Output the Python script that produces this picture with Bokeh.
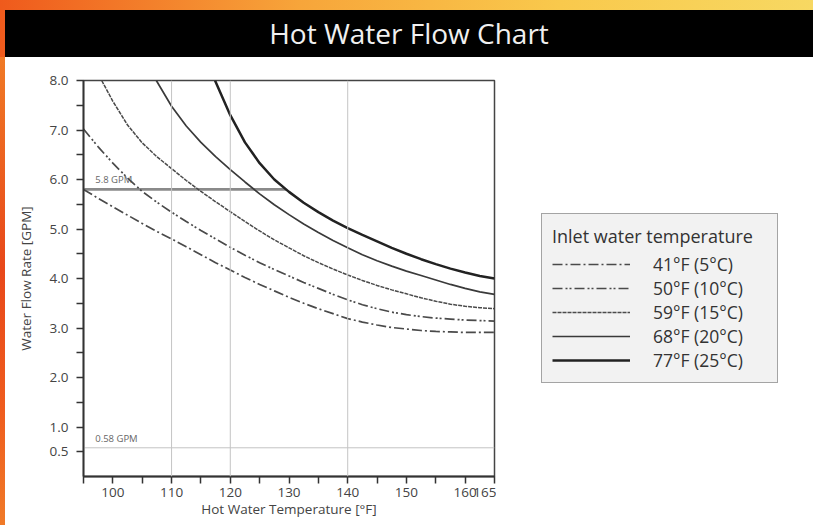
from bokeh.plotting import figure
from bokeh.models import FixedTicker, Span, Legend, LegendItem, Range1d, PrintfTickFormatter, Div
from bokeh.layouts import column, row
from bokeh.embed import file_html
from bokeh.resources import INLINE
from bokeh.core.properties import value

# ---------------- data ----------------
title_text = "Hot Water Flow Chart"
x_label = "Hot Water Temperature [°F]"
y_label = "Water Flow Rate [GPM]"
legend_title = "Inlet water temperature"

x_major_ticks = [100, 110, 120, 130, 140, 150, 160, 165]
x_minor_ticks = [95, 105, 115, 125, 135, 145, 155]
y_major_ticks = [0.5, 1, 2, 3, 4, 5, 6, 7, 8]
y_minor_ticks = [1.5, 2.5, 3.5, 4.5, 5.5, 6.5, 7.5]

series_labels = ["41°F (5°C)", "50°F (10°C)", "59°F (15°C)", "68°F (20°C)", "77°F (25°C)"]

t_41 = [95, 97.5, 100, 102.5, 105, 107.5, 110, 112.5, 115, 117.5, 120, 122.5, 125, 127.5,
        130, 132.5, 135, 137.5, 140, 142.5, 145, 147.5, 150, 152.5, 155, 157.5, 160, 162.5, 165]
q_41 = [5.80, 5.62, 5.45, 5.28, 5.11, 4.95, 4.80, 4.64, 4.48, 4.32, 4.17, 4.02, 3.88, 3.75,
        3.62, 3.50, 3.39, 3.29, 3.19, 3.12, 3.06, 3.01, 2.98, 2.95, 2.93, 2.92, 2.91, 2.91, 2.91]

t_50 = [95, 97.5, 100, 102.5, 105, 107.5, 110, 112.5, 115, 117.5, 120, 122.5, 125, 127.5,
        130, 132.5, 135, 137.5, 140, 142.5, 145, 147.5, 150, 152.5, 155, 157.5, 160, 162.5, 165]
q_50 = [7.02, 6.66, 6.33, 6.03, 5.76, 5.54, 5.34, 5.15, 4.97, 4.80, 4.63, 4.47, 4.32, 4.18,
        4.05, 3.92, 3.80, 3.68, 3.57, 3.47, 3.39, 3.32, 3.27, 3.23, 3.20, 3.18, 3.16, 3.15, 3.14]

t_59 = [98.1, 100, 102.5, 105, 107.5, 110, 112.5, 115, 117.5, 120, 122.5, 125, 127.5,
        130, 132.5, 135, 137.5, 140, 142.5, 145, 147.5, 150, 152.5, 155, 157.5, 160, 162.5, 165]
q_59 = [8.00, 7.58, 7.10, 6.74, 6.46, 6.22, 5.98, 5.76, 5.55, 5.35, 5.15, 4.96, 4.78,
        4.62, 4.46, 4.32, 4.19, 4.07, 3.96, 3.86, 3.77, 3.69, 3.61, 3.54, 3.48, 3.44, 3.41, 3.39]

t_68 = [107.4, 110, 112.5, 115, 117.5, 120, 122.5, 125, 127.5, 130, 132.5, 135, 137.5,
        140, 142.5, 145, 147.5, 150, 152.5, 155, 157.5, 160, 162.5, 165]
q_68 = [8.00, 7.48, 7.08, 6.75, 6.46, 6.20, 5.95, 5.71, 5.49, 5.29, 5.10, 4.93, 4.77,
        4.62, 4.48, 4.36, 4.25, 4.15, 4.06, 3.97, 3.88, 3.80, 3.73, 3.68]

t_77 = [117.4, 120, 122.5, 125, 127.5, 130, 132.5, 135, 137.5, 140, 142.5, 145, 147.5,
        150, 152.5, 155, 157.5, 160, 162.5, 165]
q_77 = [8.00, 7.30, 6.75, 6.33, 6.00, 5.75, 5.53, 5.34, 5.17, 5.02, 4.88, 4.75, 4.62,
        4.50, 4.39, 4.29, 4.20, 4.12, 4.05, 4.00]

ref_temps = [110, 120, 140]
mark_gpm = [5.8, 0.58]
mark_x_end = [129.5, 165]
mark_text = ["5.8 GPM", "0.58 GPM"]

FONT = "Open Sans"

# ---------------- title bar ----------------
header = Div(width=813, height=57, margin=0,
             styles={"background": "linear-gradient(to right, #ef5a1c 0px, #f7a53a 300px, #f9c94c 560px, #f7d862 813px)"},
             text=('<div style="height:10px"></div>'
                   '<div style="margin-left:5px;width:808px;background:#000;color:#f0f0f0;height:47px;'
                   'line-height:47px;text-align:center;font-family:\'Open Sans\';font-size:28px;">'
                   + title_text + '</div>'))
strip = Div(width=5, height=468, margin=0, text="",
            styles={"background": "linear-gradient(to bottom, #f07a26, #e8481a 45%, #ef5c1e 75%, #f07a28)"})

# ---------------- chart ----------------
p = figure(width=491, height=468, x_range=Range1d(95, 165), y_range=Range1d(0, 8),
           toolbar_location=None, output_backend="svg",
           min_border_left=78, min_border_right=2, min_border_top=23, min_border_bottom=49,
           background_fill_color="white", border_fill_color="white",
           outline_line_color="#444444", outline_line_width=1.5)
p.grid.visible = False

for t in ref_temps:
    p.add_layout(Span(location=t, dimension="height", line_color="#c4c4c4", line_width=1))

# reference flow lines
p.segment(x0=[95], y0=[mark_gpm[0]], x1=[mark_x_end[0]], y1=[mark_gpm[0]],
          line_color="#8a8a8a", line_width=2.8)
p.segment(x0=[95], y0=[mark_gpm[1]], x1=[mark_x_end[1]], y1=[mark_gpm[1]],
          line_color="#c4c4c4", line_width=1)
p.text(x=[97, 97], y=mark_gpm, text=mark_text, text_baseline="bottom", text_align="left",
       y_offset=-3, text_color="#666666", text_font=value(FONT),
       text_font_size="9.5px")

styles = [
    dict(line_dash="10 3 2 3", line_width=1.7, line_color="#4a4a4a"),
    dict(line_dash="10 3 2 2 2 3", line_width=1.7, line_color="#4a4a4a"),
    dict(line_dash="4 1", line_width=1.5, line_color="#4a4a4a"),
    dict(line_width=1.7, line_color="#3a3a3a"),
    dict(line_width=2.5, line_color="#222222"),
]
series = [(t_41, q_41), (t_50, q_50), (t_59, q_59), (t_68, q_68), (t_77, q_77)]
for (xs, ys), st in zip(series, styles):
    p.line(xs, ys, **st)

# axes
p.xaxis.ticker = FixedTicker(ticks=x_major_ticks, minor_ticks=x_minor_ticks)
p.yaxis.ticker = FixedTicker(ticks=y_major_ticks, minor_ticks=y_minor_ticks)
p.yaxis.formatter = PrintfTickFormatter(format="%.1f")
p.xaxis.axis_label = x_label
p.yaxis.axis_label = y_label
for ax in (p.xaxis, p.yaxis):
    ax.axis_line_color = "#333333"
    ax.axis_line_width = 1.8
    ax.major_tick_line_color = "#333333"
    ax.major_tick_line_width = 1.5
    ax.minor_tick_line_color = "#333333"
    ax.minor_tick_line_width = 1.5
    ax.major_tick_in = 0
    ax.major_tick_out = 7
    ax.minor_tick_in = 0
    ax.minor_tick_out = 7
    ax.major_label_text_font = FONT
    ax.major_label_text_font_size = "13.5px"
    ax.major_label_text_color = "#444444"
    ax.axis_label_text_font = FONT
    ax.axis_label_text_font_size = "13.5px"
    ax.axis_label_text_color = "#444444"
    ax.axis_label_text_font_style = "normal"
p.xaxis.major_label_standoff = 4
p.xaxis.axis_label_standoff = 0
p.yaxis.major_label_standoff = 8
p.yaxis.axis_label_standoff = 12

# ---------------- legend panel (same series and line styles, drawn outside its view) ----------------
lf = figure(width=317, height=468, x_range=Range1d(0, 1), y_range=Range1d(0, 1),
            x_axis_location=None, y_axis_location=None, toolbar_location=None,
            output_backend="svg", min_border_left=0, min_border_right=0,
            min_border_top=23, min_border_bottom=49, outline_line_color=None,
            background_fill_color="white", border_fill_color="white")
lf.grid.visible = False
items = []
for (xs, ys), st, lab in zip(series, styles, series_labels):
    r = lf.line(xs, ys, **st)
    items.append(LegendItem(label=lab, renderers=[r]))

legend = Legend(items=items, title=legend_title, location=(45, 93),
                title_text_font=FONT, title_text_font_size="18px", title_text_font_style="normal",
                title_text_color="#333333", title_standoff=4,
                label_text_font=FONT, label_text_font_size="17.5px", label_text_color="#333333",
                glyph_width=78, glyph_height=24, label_height=24, label_width=114,
                label_standoff=23, spacing=0, padding=10, margin=0,
                background_fill_color="#f2f2f2", background_fill_alpha=1,
                border_line_color="#555555", border_line_width=1.5)
lf.add_layout(legend, "center")

layout = column(header, row(strip, p, lf, spacing=0), spacing=0)
open("out.html", "w").write(file_html(layout, INLINE))
